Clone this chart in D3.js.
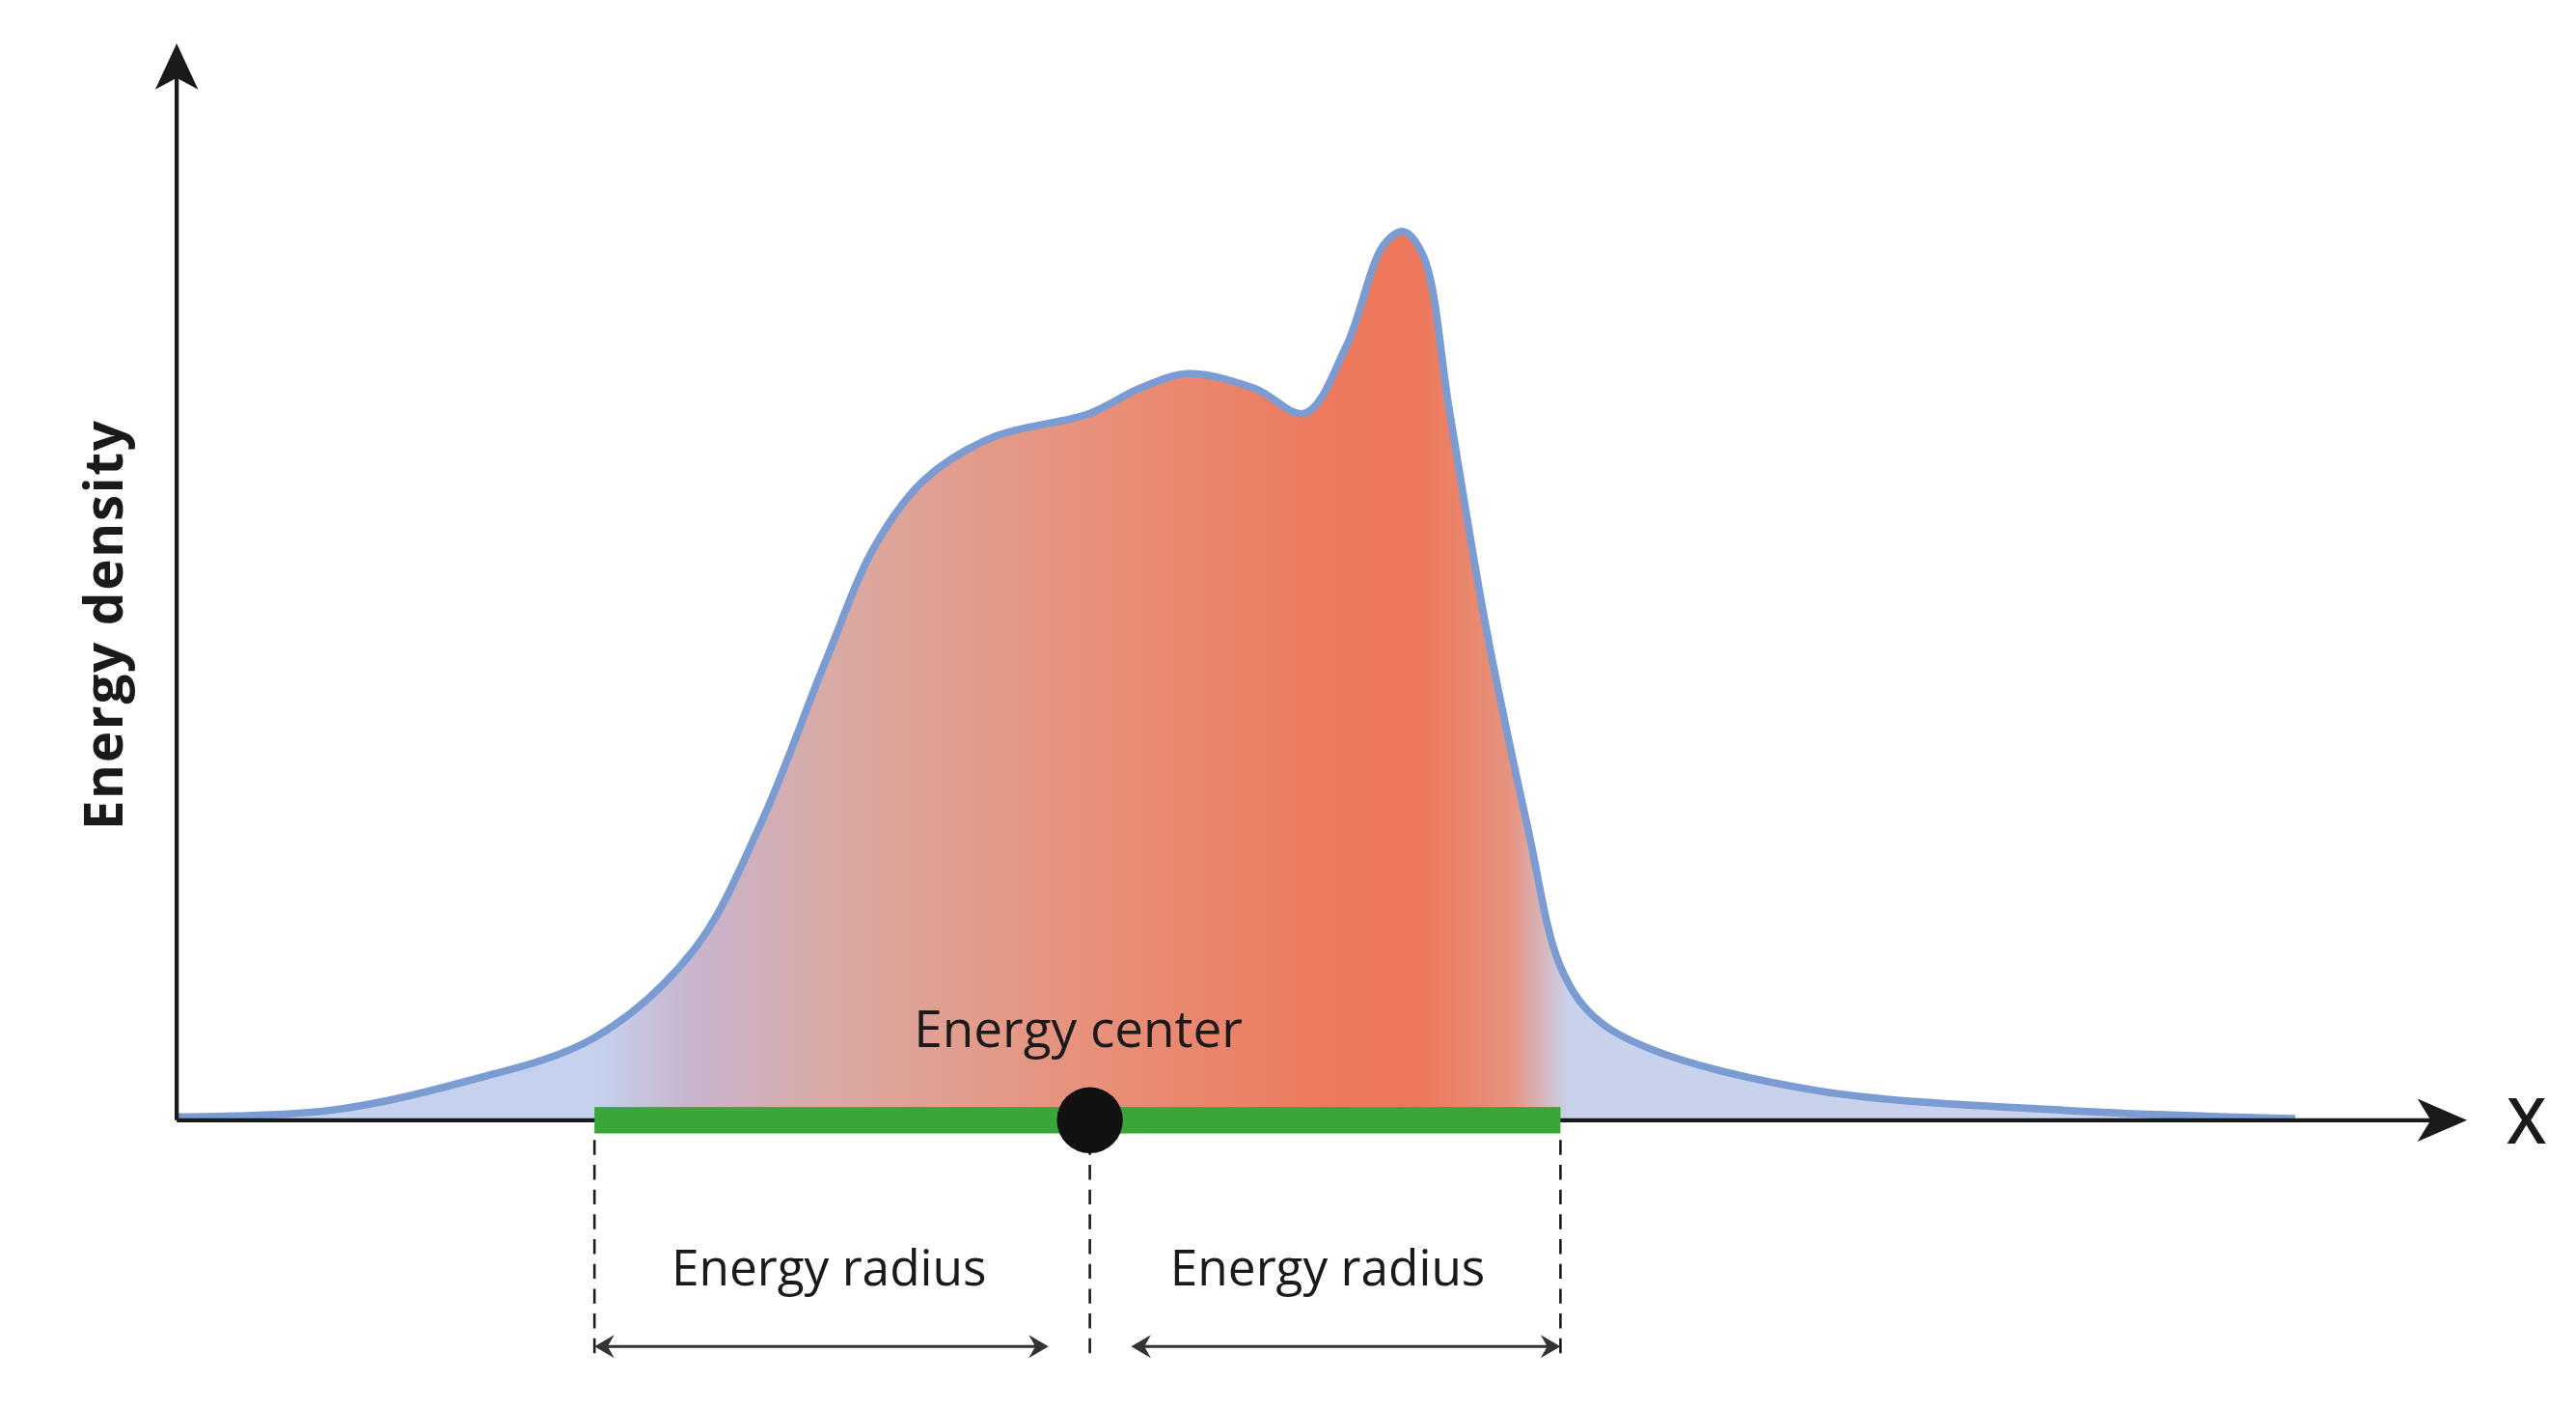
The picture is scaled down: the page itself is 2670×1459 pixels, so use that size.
<!DOCTYPE html>
<html>
<head>
<meta charset="utf-8">
<script src="https://cdn.jsdelivr.net/npm/d3@7"></script>
<style>
  html, body { margin: 0; padding: 0; background: #fff; }
  text { font-family: "Open Sans", Lato, sans-serif; fill: #1a1a1a; }
</style>
</head>
<body>
<svg id="chart"></svg>
<script>
// distance along x (arbitrary units) and energy density
var posX = [0, 93, 173, 253, 313, 353, 393, 423, 453, 493, 553, 583, 613, 653, 683, 708, 731, 743, 755, 771, 793, 818, 838, 858, 893, 993, 1143, 1283];
var density = [2, 6, 23, 50, 103, 178, 278, 348, 388, 413, 428, 443, 452, 443, 428, 468, 530, 538, 523, 428, 298, 178, 93, 63, 43, 18, 6, 1];
var radiusLeft = 253, centerX = 553, radiusRight = 838;
var labels = { y: 'Energy density', x: 'X', center: 'Energy center', radius: 'Energy radius' };

var W = 1560, H = 852;
var svg = d3.select('#chart')
  .attr('width', 2670).attr('height', 1459)
  .attr('viewBox', '0 0 ' + W + ' ' + H);

var ox = 107, oy = 678;
var x = d3.scaleLinear().domain([0, 1385]).range([ox, 1492]);
var y = d3.scaleLinear().domain([0, 540]).range([oy, 138]);

var defs = svg.append('defs');
var grad = defs.append('linearGradient').attr('id', 'fillGrad')
  .attr('gradientUnits', 'userSpaceOnUse')
  .attr('x1', ox).attr('x2', 1492).attr('y1', 0).attr('y2', 0);
[[360, '#c6d1ee'], [420, '#c8b4cc'], [500, '#d8aaa6'], [600, '#e39a88'], [700, '#e98a72'], [800, '#ec7a5e'], [860, '#ed775a'], [915, '#e6937f'], [950, '#c9d2ec']]
  .forEach(function (s) {
    grad.append('stop').attr('offset', (s[0] - ox) / (1492 - ox)).attr('stop-color', s[1]);
  });

var pts = posX.map(function (v, i) { return [v, density[i]]; });
var area = d3.area().x(function (d) { return x(d[0]); }).y0(oy).y1(function (d) { return y(d[1]); }).curve(d3.curveCatmullRom.alpha(0.5));
var line = d3.line().x(function (d) { return x(d[0]); }).y(function (d) { return y(d[1]); }).curve(d3.curveCatmullRom.alpha(0.5));

svg.append('path').datum(pts).attr('d', area).attr('fill', 'url(#fillGrad)');
svg.append('path').datum(pts).attr('d', line).attr('fill', 'none')
  .attr('stroke', '#7b9bd3').attr('stroke-width', 4.5).attr('stroke-linejoin', 'round');

// axes
svg.append('line').attr('x1', ox).attr('y1', oy).attr('x2', 1478).attr('y2', oy).attr('stroke', '#1a1a1a').attr('stroke-width', 2.5);
svg.append('path').attr('d', 'M1494,' + oy + 'L1464,' + (oy - 13) + 'L1472,' + oy + 'L1464,' + (oy + 13) + 'Z').attr('fill', '#1a1a1a');
svg.append('line').attr('x1', ox).attr('y1', oy).attr('x2', ox).attr('y2', 40).attr('stroke', '#1a1a1a').attr('stroke-width', 2.5);
svg.append('path').attr('d', 'M' + ox + ',26L' + (ox - 13) + ',54L' + ox + ',47L' + (ox + 13) + ',54Z').attr('fill', '#1a1a1a');

svg.append('text').attr('x', 1530).attr('y', 692).attr('text-anchor', 'middle')
  .style('font-size', '38px').style('font-weight', 600).text(labels.x);
svg.append('text').attr('transform', 'translate(74,378) rotate(-90)').attr('text-anchor', 'middle')
  .style('font-size', '32px').style('font-weight', 700).style('letter-spacing', '1px').text(labels.y);

// energy radius bar
svg.append('rect').attr('x', x(radiusLeft)).attr('y', oy - 8).attr('width', x(radiusRight) - x(radiusLeft)).attr('height', 16).attr('fill', '#3aa63a');

// dashed guides
[radiusLeft, centerX, radiusRight].forEach(function (v) {
  svg.append('line').attr('x1', x(v)).attr('x2', x(v)).attr('y1', 690).attr('y2', 822)
    .attr('stroke', '#1a1a1a').attr('stroke-width', 1.5).attr('stroke-dasharray', '9,6');
});

svg.append('circle').attr('cx', x(centerX)).attr('cy', oy).attr('r', 20).attr('fill', '#111');

svg.append('text').attr('x', 653).attr('y', 634).attr('text-anchor', 'middle')
  .style('font-size', '31px').style('font-weight', 500).text(labels.center);

// double arrows
function dblArrow(a, b) {
  var yy = 815;
  svg.append('line').attr('x1', a + 4).attr('x2', b - 4).attr('y1', yy).attr('y2', yy).attr('stroke', '#333').attr('stroke-width', 1.8);
  svg.append('path').attr('d', 'M' + a + ',' + yy + 'L' + (a + 12) + ',' + (yy - 7) + 'L' + (a + 8) + ',' + yy + 'L' + (a + 12) + ',' + (yy + 7) + 'Z').attr('fill', '#333');
  svg.append('path').attr('d', 'M' + b + ',' + yy + 'L' + (b - 12) + ',' + (yy - 7) + 'L' + (b - 8) + ',' + yy + 'L' + (b - 12) + ',' + (yy + 7) + 'Z').attr('fill', '#333');
}
dblArrow(x(radiusLeft), 635);
dblArrow(685, x(radiusRight));

svg.append('text').attr('x', 502).attr('y', 778).attr('text-anchor', 'middle')
  .style('font-size', '30px').style('font-weight', 500).text(labels.radius);
svg.append('text').attr('x', 804).attr('y', 778).attr('text-anchor', 'middle')
  .style('font-size', '30px').style('font-weight', 500).text(labels.radius);
</script>
</body>
</html>
